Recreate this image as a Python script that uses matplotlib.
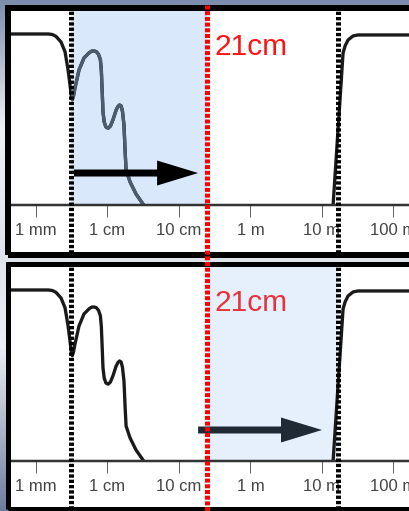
import numpy as np
import matplotlib
matplotlib.use('Agg')
import matplotlib.pyplot as plt
import matplotlib.transforms as mtransforms
from matplotlib.patches import Rectangle
from matplotlib.lines import Line2D
from matplotlib.colors import LinearSegmentedColormap

plt.rcParams['font.family'] = ['Liberation Sans', 'DejaVu Sans']
plt.rcParams['lines.scale_dashes'] = False

# ---- data ----
# atmospheric transmission vs wavelength (metres), short-wave side
wl_short = [4.3e-4, 1.50e-3, 1.70e-3, 1.90e-3, 2.24e-3, 2.55e-3, 2.81e-3, 2.99e-3,
            3.12e-3, 3.22e-3, 3.35e-3, 3.51e-3, 3.99e-3, 4.69e-3, 5.51e-3, 6.00e-3,
            6.47e-3, 7.00e-3, 7.50e-3, 7.95e-3, 8.20e-3, 8.38e-3, 8.65e-3, 9.00e-3,
            9.50e-3, 1.02e-2, 1.10e-2, 1.20e-2, 1.32e-2, 1.40e-2, 1.47e-2, 1.55e-2,
            1.62e-2, 1.70e-2, 1.76e-2, 1.82e-2, 2.07e-2, 2.51e-2, 3.14e-2]
tr_short = [0.877, 0.877, 0.874, 0.865, 0.836, 0.785, 0.692, 0.615,
            0.560, 0.540, 0.560, 0.600, 0.692, 0.754, 0.780, 0.789,
            0.790, 0.786, 0.772, 0.745, 0.690, 0.605, 0.477, 0.425,
            0.400, 0.394, 0.405, 0.440, 0.487, 0.505, 0.513, 0.508,
            0.480, 0.410, 0.282, 0.179, 0.118, 0.056, 0.005]
# long-wave side (ionosphere cut-off)
wl_long = [14.3, 19.7, 21.0, 23.1, 27.2, 31.9, 240.0]
tr_long = [0.0, 0.779, 0.815, 0.846, 0.867, 0.872, 0.872]

tick_vals = [1e-3, 1e-2, 1e-1, 1, 10, 100]
tick_labels = ['1 mm', '1 cm', '10 cm', '1 m', '10 m', '100 m']

edge_short = 3.1e-3    # dotted line, edge of the window (short side)
edge_long = 16.5       # dotted line, edge of the window (long side)
line_21cm = 0.25       # where the red 21cm line sits on the axis
label_21cm = '21cm'

arrow_top = (3.4e-3, 0.185, 0.164)   # from, to, level
arrow_bot = (0.185, 10.0, 0.159)

# ---- layout helpers (pixels) ----
W, H = 410, 511
def fx(x):
    return x / W
def fy(y):
    return 1 - y / H
PX = 0.72  # points per pixel at dpi 100

fig = plt.figure(figsize=(W / 100, H / 100), dpi=100)

# background gradient
bg = fig.add_axes([0, 0, 1, 1], zorder=0)
bg.set_axis_off()
cmap = LinearSegmentedColormap.from_list('bg', [
    (0.0, '#7b8cac'), (0.25, '#eef0f5'), (0.5, '#dfe3ec'),
    (0.68, '#eceef4'), (1.0, '#6d7d9e')])
bg.imshow(np.linspace(0, 1, 256).reshape(-1, 1), cmap=cmap, aspect='auto',
          extent=[0, 1, 0, 1])

# panel frames (white face below, black edge on top)
frames = [(8, 8, 255, 6), (8, 264, 509, 5)]
for x0, y0, y1, lw in frames:
    fig.add_artist(Rectangle((fx(x0), fy(y1)), fx(440 - x0), (y1 - y0) / H,
                             transform=fig.transFigure, facecolor='white',
                             edgecolor='none', zorder=1))
    fig.add_artist(Rectangle((fx(x0), fy(y1)), fx(440 - x0), (y1 - y0) / H,
                             transform=fig.transFigure, facecolor='none',
                             edgecolor='black', lw=lw * PX, zorder=5))

xlim = (10 ** (-3 + (10 - 36) / 71.5), 10 ** (-3 + (420 - 36) / 71.5))

def panel(axis_y, span, span_color, arrow, arrow_color, curve_tint, text_color, text_base):
    ax = fig.add_axes([fx(10), fy(axis_y), fx(410), 195 / H], zorder=2)
    ax.set_facecolor('none')
    ax.set_xscale('log')
    ax.set_xlim(*xlim)
    ax.set_ylim(0, 1)
    for s in ['top', 'left', 'right']:
        ax.spines[s].set_visible(False)
    ax.spines['bottom'].set_linewidth(2.5 * PX)
    ax.spines['bottom'].set_color('#333333')
    ax.set_yticks([])
    ax.set_xticks(tick_vals)
    ax.set_xticklabels(tick_labels)
    ax.xaxis.set_minor_locator(matplotlib.ticker.NullLocator())
    ax.tick_params(axis='x', direction='out', length=12 * PX, width=1 * PX,
                   color='#666666', labelsize=12, labelcolor='#444444', pad=4)

    shade = ax.axvspan(span[0], span[1], color=span_color, lw=0, zorder=0)

    ax.plot(wl_short, tr_short, color='#1a1a1a', lw=3.3 * PX, zorder=2,
            solid_joinstyle='round')
    if curve_tint:
        tinted, = ax.plot(wl_short, tr_short, color=curve_tint, lw=3.3 * PX,
                          zorder=2.5, solid_joinstyle='round')
        tinted.set_clip_path(shade)
    ax.plot(wl_long, tr_long, color='#1a1a1a', lw=3.3 * PX, zorder=2,
            solid_joinstyle='round')

    a0, a1, lev = arrow
    ax.annotate('', xy=(a1, lev), xytext=(a0, lev),
                arrowprops=dict(arrowstyle='simple,head_length=1.64,head_width=1.0,tail_width=0.28',
                                mutation_scale=18, fc=arrow_color, ec='none', lw=0,
                                shrinkA=0, shrinkB=0), zorder=4)

    bottom_frac = -48 / 195
    for xv in (edge_short, edge_long):
        ax.axvline(xv, ymin=bottom_frac, ymax=0.995, color='black', lw=5 * PX,
                   linestyle=(0, (3.3 * PX, 2 * PX)), clip_on=False, zorder=3)

    fig.text(fx(215), fy(text_base), label_21cm, color=text_color, fontsize=21.5,
             va='baseline', ha='left', zorder=6)
    return ax

ax1 = panel(205, (edge_short, line_21cm), '#d9e8fb', arrow_top, 'black',
            '#4b5d6e', '#ff1414', 55)
ax2 = panel(461, (line_21cm, edge_long), '#e6f0fd', arrow_bot, '#1f2a35',
            None, '#e8333c', 311)

# red 21cm marker runs through both panels
trans = mtransforms.blended_transform_factory(ax1.transData, fig.transFigure)
fig.add_artist(Line2D([line_21cm, line_21cm], [fy(5), fy(511)], transform=trans,
                      color='#ff0000', lw=5 * PX,
                      linestyle=(0, (4 * PX, 1.7 * PX)), zorder=7))

fig.savefig('out.png', dpi=100)
